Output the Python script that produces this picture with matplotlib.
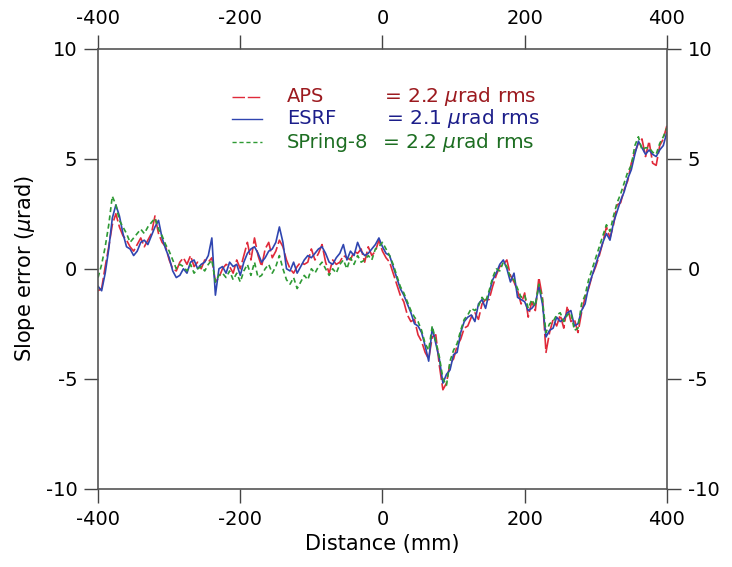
import numpy as np
import matplotlib
matplotlib.use("Agg")
import matplotlib.pyplot as plt

# Distance along the mirror (mm), 5 mm spacing
distance = np.arange(-400, 401, 5)

# Slope error (urad)
aps = [
    -1.0, -0.9, 0.1, 1.0, 2.0, 2.5, 1.9, 1.5, 1.3, 1.0,
    0.8, 1.1, 1.4, 1.0, 1.3, 1.6, 2.4, 1.6, 1.2, 1.0,
    0.4, 0.0, -0.1, 0.3, 0.5, 0.2, 0.6, 0.1, 0.3, 0.0,
    0.4, 0.3, 0.5, -0.6, -0.4, 0.0, 0.2, 0.1, -0.2, 0.4,
    0.0, 0.6, 1.2, 0.4, 1.4, 0.6, 0.1, 0.9, 1.2, 0.5,
    0.8, 1.3, 1.0, 0.4, 0.0, -0.2, 0.1, 0.3, 0.2, 0.3,
    0.9, 0.4, 0.7, 1.1, 0.3, -0.2, 0.4, 0.2, 0.3, 0.6,
    0.5, 0.4, 0.8, 0.7, 0.9, 0.3, 1.0, 0.6, 0.8, 1.3,
    0.8, 0.5, 0.3, -0.2, -0.7, -1.2, -1.5, -2.1, -2.4, -2.3,
    -3.0, -3.3, -3.8, -4.1, -3.1, -3.0, -4.4, -5.5, -5.2, -4.3,
    -4.1, -3.5, -3.2, -2.7, -2.6, -2.2, -2.0, -2.3, -1.6, -1.4,
    -1.4, -0.8, -0.3, 0.1, 0.2, 0.4, -0.3, -0.6, -1.0, -1.6,
    -1.1, -2.2, -1.5, -1.9, -0.4, -1.3, -3.8, -2.9, -2.3, -2.6,
    -2.1, -2.7, -1.7, -2.4, -2.3, -2.9, -2.0, -1.3, -0.9, -0.3,
    0.1, 0.6, 1.2, 1.9, 1.4, 2.0, 2.9, 3.0, 3.6, 4.0,
    4.8, 5.3, 5.7, 5.9, 5.1, 5.8, 4.8, 4.7, 5.6, 5.9,
    6.5,
]
esrf = [
    -0.8, -1.0, -0.2, 0.9, 2.3, 2.9, 2.4, 1.6, 1.0, 0.9,
    0.6, 0.8, 1.2, 1.3, 1.1, 1.5, 1.9, 2.2, 1.4, 0.9,
    0.5, -0.1, -0.4, -0.3, 0.0, -0.2, 0.3, 0.4, 0.0, 0.2,
    0.3, 0.6, 1.4, -1.2, 0.0, 0.1, -0.2, 0.3, 0.1, 0.2,
    -0.3, 0.3, 0.7, 0.9, 1.0, 0.7, 0.3, 0.5, 0.8, 0.9,
    1.2, 1.9, 1.2, 0.0, -0.1, 0.3, -0.2, 0.1, 0.4, 0.6,
    0.5, 0.7, 0.9, 1.0, 0.7, 0.3, 0.2, 0.5, 0.7, 1.1,
    0.4, 0.8, 0.6, 1.2, 0.8, 0.6, 0.7, 0.9, 1.1, 1.4,
    1.0, 0.7, 0.6, 0.1, -0.4, -0.9, -1.2, -1.6, -2.0, -2.5,
    -2.6, -2.9, -3.5, -4.2, -2.7, -3.4, -4.1, -5.2, -4.8, -4.6,
    -3.9, -3.8, -2.9, -2.4, -2.2, -2.1, -2.4, -1.6, -1.4, -1.8,
    -1.1, -0.5, -0.2, 0.2, 0.4, 0.0, -0.6, -0.2, -1.3, -1.4,
    -1.5, -1.9, -1.8, -1.6, -0.8, -1.6, -3.1, -2.8, -2.7, -2.2,
    -2.4, -2.3, -2.0, -1.9, -2.6, -2.5, -1.9, -1.6, -0.8, -0.3,
    0.2, 0.7, 1.2, 1.6, 1.3, 2.1, 2.6, 3.1, 3.5, 4.1,
    4.5, 5.2, 5.8, 5.5, 5.2, 5.4, 5.2, 5.1, 5.4, 5.6,
    6.2,
]
spring8 = [
    -0.4, 0.2, 1.0, 2.0, 3.3, 2.9, 2.2, 1.9, 1.6, 1.2,
    1.4, 1.6, 1.8, 1.6, 1.9, 2.1, 2.3, 1.8, 1.5, 1.1,
    0.8, 0.4, 0.0, 0.2, 0.1, -0.1, 0.2, -0.2, 0.0, 0.1,
    -0.1, 0.2, 0.4, -0.6, -0.3, -0.2, -0.4, -0.1, -0.5, -0.2,
    -0.6, -0.1, 0.2, -0.3, 0.3, -0.4, -0.3, 0.0, 0.2, -0.2,
    0.1, 0.6, 0.0, -0.5, -0.7, -0.4, -0.9, -0.6, -0.3, -0.5,
    0.0, -0.2, 0.1, 0.3, 0.0, -0.3, 0.0, -0.2, 0.2, 0.4,
    0.0, 0.5, 0.2, 0.6, 0.3, 0.4, 0.6, 0.4, 0.9, 1.0,
    1.2, 0.9, 0.6, 0.2, -0.3, -0.8, -1.1, -1.5, -1.9, -2.2,
    -2.4, -2.8, -3.4, -3.7, -2.6, -3.3, -4.0, -5.0, -5.3, -4.2,
    -3.7, -3.4, -2.8, -2.3, -2.1, -1.8, -1.9, -1.7, -1.3, -1.5,
    -1.0, -0.4, 0.0, -0.1, 0.3, 0.1, -0.4, -0.5, -0.9, -1.3,
    -1.2, -1.8, -1.4, -1.7, -0.7, -1.4, -2.9, -2.5, -2.4, -2.1,
    -2.0, -2.4, -2.1, -2.0, -2.8, -2.7, -1.6, -1.2, -0.5, 0.0,
    0.5, 1.0, 1.5, 2.0, 1.7, 2.4, 3.0, 3.4, 3.9, 4.4,
    4.7, 5.6, 6.0, 5.4, 5.5, 5.5, 5.3, 5.2, 5.7, 6.0,
    6.4,
]

series_names = ["APS", "ESRF", "SPring-8"]
rms_text = ["= 2.2 $\\mu$rad rms", "= 2.1 $\\mu$rad rms", "= 2.2 $\\mu$rad rms"]
line_colors = ["#e02a3a", "#2f45b0", "#2e9a34"]
text_colors = ["#9c1a1f", "#1c1e8a", "#1d6e22"]
dash_styles = [(0, (9, 2)), "-", (0, (3, 2))]

x_ticks = [-400, -200, 0, 200, 400]
y_ticks = [-10, -5, 0, 5, 10]

plt.rcParams["font.family"] = "DejaVu Sans"
plt.rcParams["axes.unicode_minus"] = False

fig = plt.figure(figsize=(7.32, 5.67), dpi=100)
ax = fig.add_axes([0.134, 0.138, 0.777, 0.776])

for vals, c, ls in zip([aps, esrf, spring8], line_colors, dash_styles):
    ax.plot(distance, vals, color=c, linestyle=ls, linewidth=1.2)

ax.set_xlim(-400, 400)
ax.set_ylim(-10, 10)
ax.set_xticks(x_ticks)
ax.set_yticks(y_ticks)
ax.tick_params(axis="both", which="both", direction="out", length=10, width=1,
               color="#444444", labelsize=14, pad=5,
               top=True, right=True, labeltop=True, labelright=True)
for sp in ax.spines.values():
    sp.set_color("#555555")
    sp.set_linewidth(1.2)

ax.set_xlabel("Distance (mm)", fontsize=15, labelpad=4)
ax.set_ylabel("Slope error ($\\mu$rad)", fontsize=15, labelpad=6)

# legend drawn by hand, like the original
leg_y = [0.891, 0.841, 0.787]
eq_x = [0.502, 0.506, 0.499]
for i in range(3):
    ax.plot([0.2355, 0.288], [leg_y[i], leg_y[i]], transform=ax.transAxes,
            color=line_colors[i], linestyle=dash_styles[i], linewidth=1.0)
    ax.text(0.332, leg_y[i], series_names[i], transform=ax.transAxes,
            color=text_colors[i], fontsize=14, va="center")
    ax.text(eq_x[i], leg_y[i], rms_text[i], transform=ax.transAxes,
            color=text_colors[i], fontsize=14.5, va="center")

fig.savefig("out.png", dpi=100)
